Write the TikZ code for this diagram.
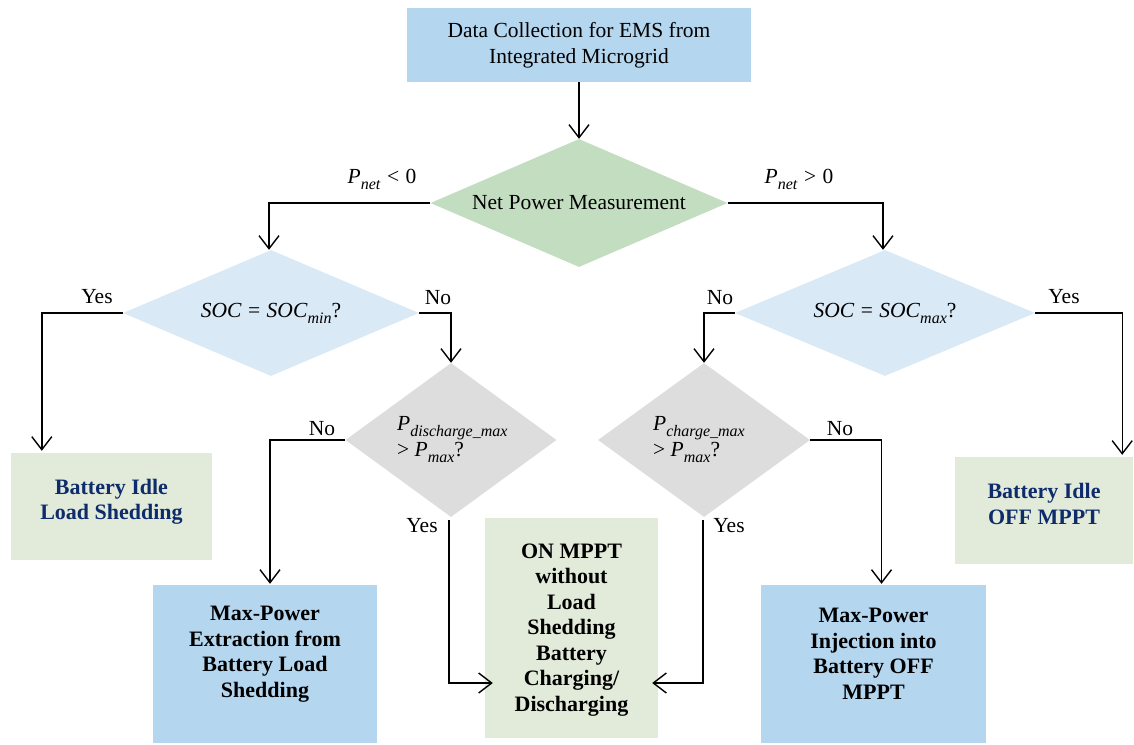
\documentclass[tikz,border=0pt]{standalone}
\usepackage{fontspec}
\setmainfont{Liberation Serif}
\usetikzlibrary{arrows.meta,shapes.geometric,calc}
\definecolor{topblue}{HTML}{B5D6EF}
\definecolor{netgreen}{HTML}{C2DDBF}
\definecolor{socblue}{HTML}{DAE9F6}
\definecolor{diagray}{HTML}{DDDDDD}
\definecolor{boxgreen}{HTML}{E2EBDA}
\definecolor{boxblue}{HTML}{B5D6EF}
\definecolor{darkblue}{HTML}{0E2C6C}
\newcommand{\ivar}[1]{\textit{#1}}
\newcommand{\isub}[1]{\raisebox{-0.28em}{\fontsize{16}{16}\selectfont\textit{#1}}}
\newcommand{\rel}[1]{\hspace{0.3em}#1\hspace{0.3em}}
\begin{document}
\begin{tikzpicture}[x=1pt,y=-1pt,
  every node/.style={font=\fontsize{21.5}{26}\selectfont, inner sep=0pt},
  rbox/.style={rectangle, draw=none, align=center},
  dia/.style={diamond, draw=none, align=center, inner sep=0pt},
  boldtxt/.style={font=\fontsize{22}{25.5}\selectfont\bfseries, align=center},
  lab/.style={inner sep=0pt},
  ln/.style={line width=1.4pt},
  arr/.style={line width=1.4pt, -{Straight Barb[length=13pt,width=20pt,line width=1.4pt]}}
]
\useasboundingbox (0,0) rectangle (1134,744);

% boxes
\node[rbox, fill=topblue, minimum width=344pt, minimum height=74pt] (top) at (579,45)
  {Data Collection for EMS from\\Integrated Microgrid};

\node[dia, fill=netgreen, minimum width=297pt, minimum height=128pt, aspect=2.32] (net) at (579,203)
  {Net Power Measurement};

\node[dia, fill=socblue, minimum width=296pt, minimum height=126pt, aspect=2.35] (socmin) at (271,313)
  {\ivar{SOC}\rel{=}\ivar{SOC}\isub{min}?};
\node[dia, fill=socblue, minimum width=300pt, minimum height=126pt, aspect=2.38] (socmax) at (885,313)
  {\ivar{SOC}\rel{=}\ivar{SOC}\isub{max}?};

\node[dia, fill=diagray, minimum width=211pt, minimum height=154pt, aspect=1.37] (pdis) at (451,440) {};
\node[align=left, anchor=west] (pdisT) at (397,440)
  {\ivar{P}\isub{discharge\_max}\\>\hspace{0.25em}\ivar{P}\isub{max}?};
\node[dia, fill=diagray, minimum width=212pt, minimum height=154pt, aspect=1.37] (pch) at (704,440) {};
\node[align=left, anchor=west] (pchT) at (653,440)
  {\ivar{P}\isub{charge\_max}\\>\hspace{0.25em}\ivar{P}\isub{max}?};

\node[rbox, fill=boxgreen, minimum width=201pt, minimum height=107pt] (idleL) at (111.5,506.5) {};
\node[boldtxt, text=darkblue] (idleLT) at (111.5,502) {Battery Idle\\Load Shedding};

\node[rbox, fill=boxgreen, minimum width=178pt, minimum height=107pt] (idleR) at (1044,510.5) {};
\node[boldtxt, text=darkblue] (idleRT) at (1044,504) {Battery Idle\\OFF MPPT};

\node[rbox, fill=boxblue, minimum width=224pt, minimum height=158pt] (extr) at (265,664) {};
\node[boldtxt] (extrT) at (265,654) {Max-Power\\Extraction from\\Battery Load\\Shedding};

\node[rbox, fill=boxblue, minimum width=225pt, minimum height=158pt] (inj) at (873.5,664) {};
\node[boldtxt] (injT) at (873.5,654) {Max-Power\\Injection into\\Battery OFF\\MPPT};

\node[rbox, fill=boxgreen, minimum width=173pt, minimum height=220pt] (onm) at (571.5,628) {};
\node[boldtxt] (onmT) at (571.5,630) {ON MPPT\\without\\Load\\Shedding\\Battery\\Charging/\\Discharging};

% connectors
\draw[arr] (top.south) -- (net.north);
\draw[arr] (net.west) -| ([xshift=-2pt]socmin.north);
\draw[arr] (net.east) -| ([xshift=-2pt]socmax.north);
\draw[arr] (socmin.west) -| ([xshift=31pt,yshift=2pt]idleL.north west);
\draw[arr] (socmin.east) -| (pdis.north);
\draw[arr] (socmax.west) -| (pch.north);
\draw[arr] (socmax.east) -| ([xshift=-11pt,yshift=2pt]idleR.north east);
\draw[arr] (pdis.west) -| ([xshift=5pt,yshift=1pt]extr.north);
\draw[arr] (pch.east) -| ([xshift=8pt,yshift=1pt]inj.north);
\draw[arr] ([xshift=-2pt,yshift=-3pt]pdis.south) |- ([xshift=8pt,yshift=-55pt]onm.west);
\draw[arr] ([xshift=-1pt,yshift=-3pt]pch.south) |- ([xshift=-6pt,yshift=-55pt]onm.east);

% labels
\node[lab] (lneg) at (382,179) {\ivar{P}\isub{net}\rel{<}0};
\node[lab] (lpos) at (799,179) {\ivar{P}\isub{net}\rel{>}0};
\node[lab] (lyes1) at (97,297) {Yes};
\node[lab] (lno1) at (438,298) {No};
\node[lab] (lno2) at (720,298) {No};
\node[lab] (lyes2) at (1064,297) {Yes};
\node[lab] (lno3) at (322,429) {No};
\node[lab] (lno4) at (840,429) {No};
\node[lab] (lyes3) at (422,526) {Yes};
\node[lab] (lyes4) at (729,526) {Yes};
\end{tikzpicture}
\end{document}
